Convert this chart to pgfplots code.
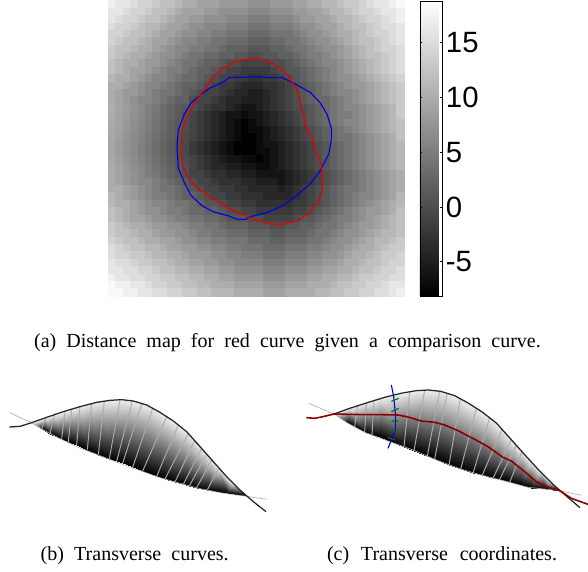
\documentclass[border=0pt]{standalone}
\usepackage{fontspec}
\usepackage{pgfplots}
\usepackage{pgfplotstable}
\pgfplotsset{compat=1.18}
\setmainfont{Liberation Serif}
\newfontfamily\helv{Liberation Sans}
% distance map, 40 x 40 cells, one line for each row of cells
\pgfplotstableread[header=false]{
17 16 16 15 14 14 13 12 12 11 10 10 9 9 9 8 8 8 8 7 7 7 8 8 8 9 9 10 10 11 11 12 13 13 14 15 16 16 17 18
16 16 15 14 14 13 12 12 11 10 9 9 9 8 8 7 7 7 7 6 6 6 7 7 7 8 8 9 9 10 11 11 12 13 14 14 15 16 16 17
16 15 14 14 13 12 12 11 10 9 9 8 8 7 7 7 6 6 6 5 5 5 6 6 6 7 8 8 9 9 10 11 11 12 13 14 14 15 16 17
15 14 14 13 12 11 11 10 9 9 8 7 7 6 6 6 5 5 5 4 4 4 5 5 5 6 7 7 8 9 9 10 11 12 12 13 14 15 15 16
14 14 13 12 12 11 10 9 9 8 7 7 6 6 5 5 4 4 4 3 3 3 4 4 4 5 6 7 7 8 9 10 10 11 12 13 14 14 15 16
14 13 12 12 11 10 9 9 8 7 6 6 5 5 4 4 3 3 3 2 2 2 3 3 4 4 5 6 7 7 8 9 10 11 12 12 13 14 15 16
13 12 12 11 10 10 9 8 7 6 6 5 5 4 4 3 2 2 2 1 1 1 2 2 3 4 4 5 6 7 7 8 9 10 11 12 13 14 14 15
13 12 11 10 10 9 8 7 7 6 5 4 4 3 3 2 2 1 1 0 0 1 1 2 2 3 4 5 5 6 7 8 9 10 11 12 12 13 14 15
12 11 10 10 9 8 8 7 6 5 4 4 3 2 2 1 0 0 -1 -1 -1 -1 0 0 1 2 3 4 5 6 6 7 8 9 10 11 12 13 14 15
12 11 10 9 9 8 7 6 5 5 4 3 2 2 1 0 -1 -1 -2 -2 -2 -2 -1 0 1 1 2 3 4 5 6 7 8 9 10 11 12 13 14 15
11 10 10 9 8 7 6 6 5 4 3 3 2 1 0 -1 -1 -2 -2 -3 -3 -2 -2 -1 0 1 2 3 4 5 6 7 7 8 9 10 11 12 13 14
10 10 9 8 7 6 6 5 4 3 2 2 1 0 -1 -2 -2 -3 -4 -4 -4 -3 -3 -2 -1 0 1 2 3 4 5 6 7 8 8 9 10 11 12 13
10 9 8 8 7 6 5 4 4 3 2 1 0 -1 -1 -2 -3 -4 -4 -5 -5 -4 -3 -2 -1 0 1 2 3 4 5 6 6 7 8 9 10 11 12 13
10 9 8 7 6 6 5 4 3 2 2 0 -1 -1 -2 -3 -4 -4 -5 -5 -5 -4 -3 -2 -1 0 1 2 3 3 4 5 6 7 8 9 10 11 12 13
10.2 9.2 8.2 7.3 6.3 5.3 4.3 3.3 2.3 1.4 1 0 -1 -2 -3 -3 -4 -5 -6 -6 -5 -4 -3 -2 -1 0 0 1 2 3 4 5 6 6 7 8 9 10 11 13
10 9 8.1 7.1 6.1 5.1 4.1 3.2 2.2 1.2 0.2 -1 -2 -3 -4 -5 -6 -6 -7 -6 -6 -5 -4 -3 -2 -1 0 1 2 3 4 5 5 6 7 8 9 10 11 13
9.8 8.9 7.9 6.9 5.9 5 4 3 2 1 0.1 -1 -2 -3 -4 -5 -6 -7 -8 -7 -6 -5 -4 -3 -2 -1 0 1 2 3 4 5 6 6 7 8 9 10 11 12
9.6 8.7 7.7 6.7 5.7 4.8 3.8 2.8 1.8 0.9 0 -1 -2 -3 -4 -5 -6 -7 -8 -7 -7 -6 -5 -4 -3 -2 -1 0 1 2 3 4 5 6 7 8 9 10 11 12
9.5 8.5 7.5 6.5 5.6 4.6 3.6 2.6 1.7 0.7 -0.3 -1 -2 -3 -4 -5 -6 -7 -8 -8 -7 -6 -5 -4 -3 -2 -1 0 1 2 3 4 4 5 6 7 8 9 10 12
9.3 8.3 7.3 6.4 5.4 4.4 3.4 2.4 1.4 0.4 -0.5 -2 -3 -4 -5 -6 -7 -8 -8 -8 -7 -6 -6 -5 -4 -3 -2 -1 0 1 2 3 4 5 6 7 8 9 10 11
9.2 8.2 7.3 6.3 5.3 4.3 3.3 2.4 1.4 0.4 -0.6 -2 -3 -4 -5 -6 -7 -8 -8 -8 -7 -7 -6 -5 -4 -3 -2 -1 0 1 2 3 4 5 6 7 8 9 10 11
9.5 8.5 7.5 6.5 5.5 4.6 3.6 2.6 1.6 0.7 -0.3 -1 -2 -3 -4 -5 -6 -6 -7 -7 -8 -7 -6 -5 -4 -3 -2 -1 0 1 2 3 4 5 6 7 8 9 10 11
9.8 8.8 7.8 6.8 5.9 4.9 3.9 3 2 1 0.1 -1 -2 -3 -4 -4 -5 -5 -6 -6 -7 -7 -6 -5 -4 -3 -2 -1 0 1 2 3 4 5 6 7 8 9 10 11
10 9 8 7.1 6.1 5.1 4.2 3.2 2.2 1.3 0.3 -1 -1 -2 -3 -3 -4 -4 -5 -5 -6 -6 -6 -6 -5 -4 -3 -2 -1 0 1 2 3 4 5 6 7 8 9 10
10 9 8 7 6 6 5 4 3 2 1 0 -1 -1 -2 -3 -3 -3 -4 -4 -5 -5 -5 -6 -5 -4 -3 -2 -1 0 1 2 3 4 5 6 7 8 9 10
10 10 9 8 7 6 5 4 4 3 2 1 0 -1 -1 -2 -2 -3 -3 -4 -4 -4 -4 -5 -4 -3 -2 -1 0 1 2 3 4 4 5 6 7 8 9 10
11 10 9 8 7 6 5 5 4 3 2 2 1 0 -1 -1 -2 -2 -3 -3 -3 -4 -4 -4 -4 -3 -2 -1 0 1 2 3 4 5 6 6 7 8 9 11
11 10 10 9 8 7 6 6 5 4 4 3 2 1 1 0 -1 -1 -2 -2 -3 -3 -3 -3 -3 -2 -2 -1 0 1 2 3 4 5 6 7 8 9 10 11
12 11 10 9 8 7 7 6 5 5 4 3 3 2 2 1 0 0 -1 -1 -2 -2 -2 -2 -2 -1 -1 0 1 2 3 4 5 6 7 8 8 9 10 12
12 11 10 9 9 8 7 7 6 5 5 4 4 3 3 2 1 1 1 0 0 -1 -1 -1 -1 0 1 1 2 3 4 5 5 6 7 8 9 10 11 12
13 12 11 10 10 9 8 8 7 7 6 5 5 4 4 3 2 2 2 1 1 1 0 0 1 1 2 2 3 4 4 5 6 7 8 8 9 10 11 12
13 12 12 11 10 10 9 8 8 7 7 6 5 5 4 4 3 3 3 2 2 2 1 1 2 2 2 3 4 4 5 6 7 7 8 9 10 11 11 12
14 13 12 12 11 10 10 9 9 8 7 7 6 6 5 5 4 4 4 3 3 3 2 2 3 3 3 4 4 5 6 7 7 8 9 10 11 11 12 13
15 14 13 12 12 11 11 10 9 9 8 8 7 7 6 6 5 5 4 4 4 3 3 3 4 4 4 5 5 6 7 7 8 9 10 10 11 12 13 13
15 14 14 13 13 12 11 11 10 10 9 8 8 8 7 7 6 6 5 5 5 4 4 4 5 5 5 6 6 7 7 8 9 10 10 11 12 13 13 14
16 15 15 14 13 13 12 12 11 10 10 9 9 8 8 7 7 6 6 6 6 5 5 5 6 6 6 7 7 8 8 9 10 10 11 12 12 13 14 14
16 16 15 15 14 14 13 12 12 11 11 10 10 9 9 8 8 7 7 7 7 6 6 6 7 7 7 8 8 9 9 10 10 11 12 12 13 14 14 15
17 16 16 15 15 14 14 13 13 12 12 11 11 10 10 9 9 8 8 8 8 7 7 7 8 8 8 9 9 10 10 11 11 12 13 13 14 14 15 15
18 17 17 16 16 15 14 14 13 13 12 12 11 11 10 10 10 9 9 9 9 8 8 8 9 9 9 10 10 10 11 12 12 13 13 14 14 15 16 16
18 18 17 17 16 16 15 15 14 14 13 13 12 12 11 11 11 10 10 10 10 9 9 9 10 10 10 10 11 11 12 12 13 13 14 14 15 15 16 17
}\distmap
\pgfplotsset{
  pane/.style={scale only axis, axis lines=none, y dir=reverse, clip=false,
    clip marker paths=true, colormap/blackwhite, anchor=south west},
}
\begin{document}
\begin{tikzpicture}[x=1pt,y=1pt]
\path[use as bounding box] (0,0) rectangle (441,428.25);
% (a) distance map
\begin{axis}[pane, at={(75.5pt,203.25pt)}, width=232.5pt, height=225pt,
  xmin=0, xmax=930, ymin=0, ymax=900,
  point meta min=-8.13, point meta max=18.78,
  colorbar,
  colorbar style={at={(parent axis.north east)}, anchor=north west,
    xshift=-1.6pt, yshift=-1pt, width=17pt, height=221pt,
    axis lines=box, axis line style={black, line width=0.6pt},
    ytick={-5,0,5,10,15}, yticklabels={-5,0,5,10,15},
    yticklabel pos=right, ytick pos=both, tick align=inside,
    major tick length=1.8pt, tick style={black, line width=0.4pt},
    yticklabel style={font=\helv\fontsize{22}{24}\selectfont, xshift=-1pt},
  }]
\pgfplotsinvokeforeach{0,...,39}{
  \addplot[scatter, only marks, mark=square*, mark size=2.85pt,
    scatter/use mapped color={draw=mapped color, fill=mapped color},
    mark options={line width=0pt},
    point meta=\thisrow{#1}]
    table[x expr={24+22.15*(#1+0.5)}, y expr={3+22.15*(\coordindex+0.5)}] {\distmap};
}
\addplot[blue!90!black, line width=0.85pt, no markers] coordinates {
(388,232)(430,232)(465,230)(510,233)(545,233)(580,250)(630,278)(660,310)(680,345)(692,385)(692,420)(685,460)(660,510)(630,550)(590,585)(550,615)(500,637)(450,650)(435,658)(410,658)(385,648)(340,636)(305,618)(270,585)(250,545)(233,505)(229,440)(233,390)(250,345)(270,310)(300,285)(325,265)(360,250)(388,232)};
\addplot[red!90!black, line width=0.85pt, no markers] coordinates {
(465,175)(490,180)(515,190)(545,208)(565,230)(580,255)(592,280)(598,300)(602,325)(610,345)(613,375)(625,400)(635,415)(640,440)(650,465)(660,490)(667,530)(664,575)(650,610)(625,640)(590,662)(545,673)(510,672)(470,662)(430,645)(390,628)(350,605)(315,580)(285,560)(260,530)(245,495)(240,445)(245,385)(265,340)(285,305)(310,270)(335,235)(365,205)(410,183)(440,178)(465,175)};
\end{axis}
% (b) transverse curves
\begin{axis}[pane, at={(0pt,38.25pt)}, width=217.5pt, height=105pt,
  xmin=0, xmax=870, ymin=0, ymax=420, point meta min=0, point meta max=1.08]
\addplot[surf, shader=interp, mesh/cols=22, mesh/ordering=x varies, point meta=explicit]
 table[meta=m] {
x y m
95 128 0
125 148 0
150 162 0
185 177 0
205 186 0
230 196 0
262 209 0
295 224 0
328 236 0
350 244 0
368 250 0
398 262 0
428 273 0
470 289 0
495 297 0
525 306 0
550 313 0
568 318 0
590 323 0
622 330 0
680 339 0
740 349 0
95 128 1
137 114 1
163 105 1
195 95 1
215 88 1
240 80 1
275 70 1
313 63 1
360 60 1
397 63 1
425 72 1
458 85 1
500 110 1
535 135 1
565 160 1
585 180 1
605 205 1
620 222 1
635 240 1
655 265 1
695 310 1
740 349 1
};
\addplot[gray!65, line width=0.7pt, no markers, unbounded coords=jump] coordinates {
(137,114)(125,148) (nan,nan)(163,105)(150,162) (nan,nan)(195,95)(185,177) (nan,nan)(215,88)(205,186) (nan,nan)(240,80)(230,196) (nan,nan)(275,70)(262,209) (nan,nan)(313,63)(295,224) (nan,nan)(360,60)(328,236) (nan,nan)(397,63)(350,244) (nan,nan)(425,72)(368,250) (nan,nan)(458,85)(398,262) (nan,nan)(500,110)(428,273) (nan,nan)(535,135)(470,289) (nan,nan)(565,160)(495,297) (nan,nan)(585,180)(525,306) (nan,nan)(605,205)(550,313) (nan,nan)(620,222)(568,318) (nan,nan)(635,240)(590,323) (nan,nan)(655,265)(622,330)};
\addplot[gray!60, line width=0.5pt, no markers] coordinates {
(28,98)(95,128)(130,150)(180,176)(240,204)(300,227)(360,250)(420,272)(480,293)(540,310)(600,326)(660,338)(700,344)(740,349)(800,358)};
\addplot[black!85, line width=0.95pt, no markers] coordinates {
(28,141)(60,139)(95,128)(140,112)(190,95)(240,80)(290,67)(330,61)(365,59)(400,63)(440,75)(480,97)(520,123)(560,155)(600,200)(640,245)(680,290)(720,330)(760,365)(798,395)};
\end{axis}
% (c) transverse coordinates
\begin{axis}[pane, at={(223.5pt,38.25pt)}, width=217.5pt, height=105pt,
  xmin=0, xmax=870, ymin=0, ymax=420, point meta min=0, point meta max=1.08]
\addplot[surf, shader=interp, mesh/cols=20, mesh/ordering=x varies, point meta=explicit]
 table[meta=m] {
x y m
108 102 0
150 130 0
200 157 0
222 165 0
245 172 0
318 200 0
348 212 0
388 228 0
410 238 0
453 255 0
488 268 0
525 280 0
553 285 0
585 295 0
605 298 0
635 307 0
670 316 0
700 323 0
745 328 0
785 332 0
108 102 1
155 85 1
205 69 1
228 62 1
250 55 1
335 35 1
380 30 1
425 33 1
447 40 1
487 56 1
535 85 1
575 113 1
612 148 1
640 179 1
655 196 1
672 215 1
700 247 1
725 273 1
755 303 1
785 332 1
};
\addplot[gray!65, line width=0.7pt, no markers, unbounded coords=jump] coordinates {
(178,78)(170,142) (nan,nan)(205,69)(200,157) (nan,nan)(228,62)(222,165) (nan,nan)(335,35)(318,200) (nan,nan)(380,30)(348,212) (nan,nan)(425,33)(388,228) (nan,nan)(447,40)(410,238) (nan,nan)(487,56)(453,255) (nan,nan)(535,85)(488,268) (nan,nan)(575,113)(525,280) (nan,nan)(612,148)(553,285) (nan,nan)(640,179)(585,295) (nan,nan)(655,196)(605,298) (nan,nan)(672,215)(635,307)};
\addplot[gray!60, line width=0.5pt, no markers] coordinates {
(32,70)(108,102)(150,130)(200,157)(270,183)(340,208)(420,242)(490,268)(560,288)(620,303)(690,322)(785,332)(850,346)};
\addplot[black!85, line width=0.95pt, no markers] coordinates {
(108,102)(155,85)(208,68)(260,52)(313,39)(355,32)(391,30)(428,34)(470,47)(512,70)(554,97)(596,130)(638,177)(680,224)(722,270)(764,312)(806,349)(846,383)};
\addplot[blue, line width=0.85pt, no markers] coordinates {
(280,15)(287,50)(292,100)(292,150)(280,180)(270,205)};
\addplot[green!45!black, line width=0.85pt, no markers, unbounded coords=jump] coordinates {
(280,64)(302,55) (nan,nan)(280,95)(302,85) (nan,nan)(280,123)(302,123) (nan,nan)(276,150)(298,157) (nan,nan)(270,172)(290,180)};
\addplot[red!55!black, line width=1.2pt, no markers] coordinates {
(25,113)(50,115)(75,110)(108,102)(150,103)(200,104)(250,104)(300,105)(330,111)(370,123)(410,127)(440,135)(480,152)(530,178)(570,200)(615,232)(640,243)(680,275)(715,305)(745,320)(785,332)(820,355)(870,373)};
\end{axis}
% captions
\node[inner sep=0pt, anchor=base] at (215.6,167.25) {\fontsize{15}{17}\selectfont\makebox[380pt][s]{(a) Distance map for red curve given a comparison curve.}};
\node[inner sep=0pt, anchor=base] at (101,8.25) {\fontsize{15}{17}\selectfont\makebox[141pt][s]{(b) Transverse curves.}};
\node[inner sep=0pt, anchor=base] at (331.5,8.25) {\fontsize{15}{17}\selectfont\makebox[172.5pt][s]{(c) Transverse coordinates.}};
\end{tikzpicture}
\end{document}
